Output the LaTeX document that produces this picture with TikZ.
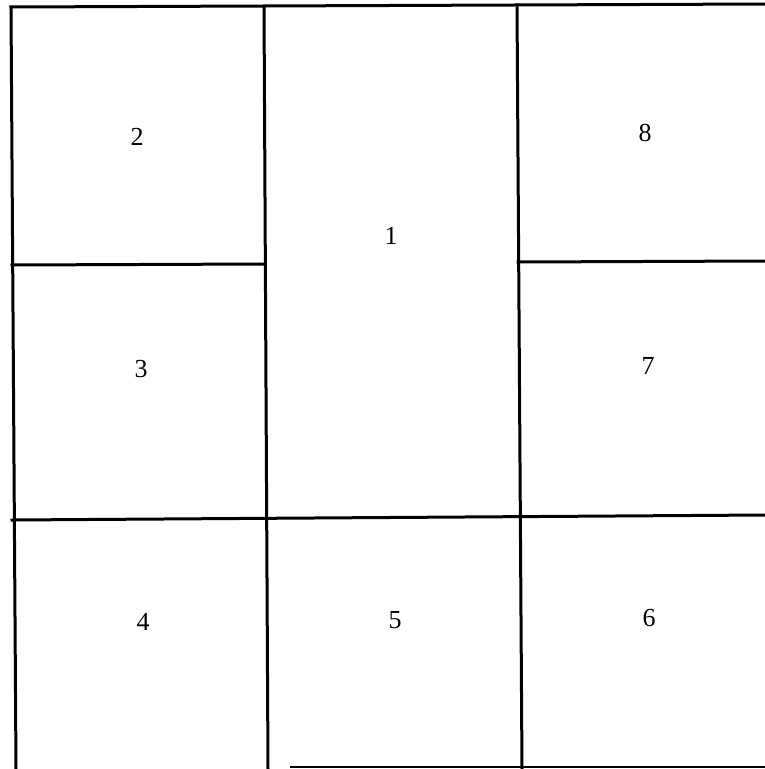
\documentclass[tikz,border=0pt]{standalone}
\usepackage{fontspec}
\setmainfont{Liberation Serif}

\begin{document}
\begin{tikzpicture}[
  x=1pt, y=-1pt,
  font=\fontsize{26}{30}\selectfont,
  wall/.style  ={draw,line width=3pt,line cap=rect},
  seam/.style  ={draw,line width=1.2pt},
  cell/.style  ={inner sep=0pt,anchor=center}]

\useasboundingbox (0,0) rectangle (765,769);

% --- outer frame and columns ---
\draw[wall] (11,7) -- (765,4);
\draw[wall] (11,7) -- (16,769);
\draw[wall] (264,7) -- (268,769);
\draw[wall] (517,5) -- (522,769);

% --- row splits ---
\draw[wall] (12,265) -- (264,264);
\draw[wall] (518,262) -- (765,261);
\draw[wall] (12,520) -- (765,515);
\draw[seam] (290,767) -- (765,767);

% --- cell numbers ---
\node[cell] (c1) at (391,236) {1};
\node[cell] (c2) at (137,137) {2};
\node[cell] (c3) at (141,369) {3};
\node[cell] (c4) at (143,622) {4};
\node[cell] (c5) at (395,620) {5};
\node[cell] (c6) at (649,618) {6};
\node[cell] (c7) at (648,366) {7};
\node[cell] (c8) at (645,133) {8};

\end{tikzpicture}
\end{document}
